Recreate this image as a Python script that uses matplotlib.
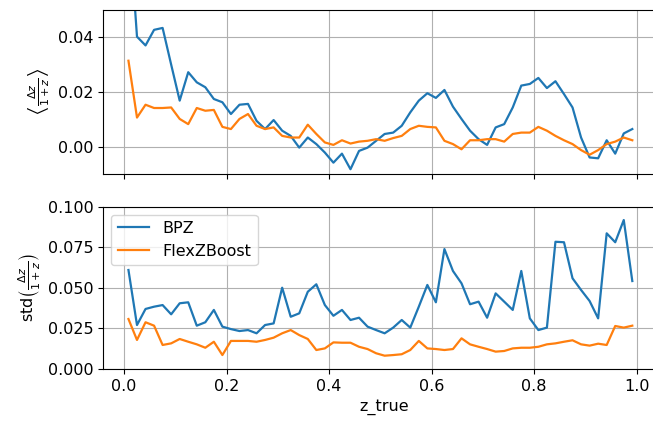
import numpy as np
import matplotlib
matplotlib.use("Agg")
import matplotlib.pyplot as plt

# 60 redshift bins between 0 and 1
z_true = (np.arange(60) + 0.5) / 60

bias_bpz = [0.085, 0.0402, 0.037, 0.0427, 0.0434, 0.030, 0.0168, 0.0272, 0.0235, 0.0217,
            0.0174, 0.0162, 0.0119, 0.0153, 0.0156, 0.0094, 0.0064, 0.0097, 0.0058, 0.0039,
            -0.0004, 0.0033, 0.0009, -0.0022, -0.0059, -0.0026, -0.0083, -0.0016, -0.0004, 0.0021,
            0.0046, 0.0051, 0.0076, 0.0125, 0.0168, 0.0195, 0.0178, 0.0207, 0.0146, 0.0101,
            0.0058, 0.0027, 0.0006, 0.0070, 0.0082, 0.0143, 0.0223, 0.0229, 0.0251, 0.0214,
            0.0239, 0.0192, 0.0143, 0.0033, -0.0040, -0.0043, 0.0023, -0.0026, 0.0048, 0.0064]

bias_fzb = [0.0314, 0.0106, 0.0153, 0.0141, 0.0141, 0.0143, 0.0101, 0.0082, 0.0141, 0.0131,
            0.0134, 0.0072, 0.0064, 0.0101, 0.0119, 0.0076, 0.0064, 0.0070, 0.0039, 0.0033,
            0.0033, 0.0080, 0.0046, 0.0015, 0.0006, 0.0023, 0.0011, 0.0018, 0.0021, 0.0027,
            0.0021, 0.0031, 0.0039, 0.0064, 0.0076, 0.0072, 0.0070, 0.0021, 0.0009, -0.0010,
            0.0023, 0.0023, 0.0027, 0.0027, 0.0018, 0.0046, 0.0051, 0.0051, 0.0072, 0.0058,
            0.0039, 0.0023, 0.0009, -0.0013, -0.0030, -0.0013, 0.0009, 0.0018, 0.0033, 0.0023]

std_bpz = [0.061, 0.0271, 0.0370, 0.0384, 0.0394, 0.0337, 0.0405, 0.0411, 0.0267, 0.0288,
           0.0364, 0.0261, 0.0246, 0.0234, 0.0240, 0.0220, 0.0271, 0.0281, 0.0501, 0.0322,
           0.0343, 0.0476, 0.0522, 0.0394, 0.0328, 0.0364, 0.0302, 0.0316, 0.0261, 0.0240,
           0.0220, 0.0255, 0.0302, 0.0255, 0.0384, 0.0518, 0.0411, 0.0739, 0.0604, 0.0528,
           0.0399, 0.0415, 0.0316, 0.0466, 0.0415, 0.0364, 0.0604, 0.0312, 0.0240, 0.0255,
           0.0784, 0.0781, 0.0559, 0.0487, 0.0419, 0.0312, 0.0836, 0.0781, 0.0918, 0.0542]

std_fzb = [0.0308, 0.0179, 0.0288, 0.0267, 0.0148, 0.0158, 0.0185, 0.0168, 0.0152, 0.0131,
           0.0168, 0.0086, 0.0173, 0.0173, 0.0173, 0.0168, 0.0179, 0.0193, 0.0220, 0.0240,
           0.0209, 0.0185, 0.0117, 0.0127, 0.0164, 0.0162, 0.0162, 0.0137, 0.0123, 0.0097,
           0.0082, 0.0086, 0.0091, 0.0117, 0.0173, 0.0127, 0.0123, 0.0117, 0.0123, 0.0189,
           0.0152, 0.0137, 0.0123, 0.0107, 0.0111, 0.0127, 0.0131, 0.0131, 0.0137, 0.0152,
           0.0158, 0.0168, 0.0177, 0.0152, 0.0144, 0.0156, 0.0148, 0.0265, 0.0255, 0.0267]

plt.rcParams['font.size'] = 11.5

fig = plt.figure(figsize=(6.53, 4.21), dpi=100)
# the right edge of the axes runs off the picture, as in the reference crop
ax1 = fig.add_axes([0.158, 0.587, 0.86, 0.3895])
ax2 = fig.add_axes([0.158, 0.1235, 0.86, 0.3855], sharex=ax1)

ax1.plot(z_true, bias_bpz, lw=1.6, label='BPZ')
ax1.plot(z_true, bias_fzb, lw=1.6, label='FlexZBoost')
ax1.set_xlim(-0.041, 1.055)
ax1.set_ylim(-0.01, 0.05)
ax1.set_yticks([0.0, 0.02, 0.04])
ax1.set_ylabel(r'$\left\langle\frac{\Delta z}{1+z}\right\rangle$')
ax1.grid(True)
ax1.tick_params(labelbottom=False)

ax2.plot(z_true, std_bpz, lw=1.6, label='BPZ')
ax2.plot(z_true, std_fzb, lw=1.6, label='FlexZBoost')
ax2.set_ylim(0, 0.1)
ax2.set_yticks([0.0, 0.025, 0.05, 0.075, 0.1])
ax2.set_ylabel(r'std$\left(\frac{\Delta z}{1+z}\right)$')
ax2.set_xlabel('z_true')
ax2.grid(True)
ax2.legend(loc='upper left')

fig.savefig('out.png', dpi=100)
